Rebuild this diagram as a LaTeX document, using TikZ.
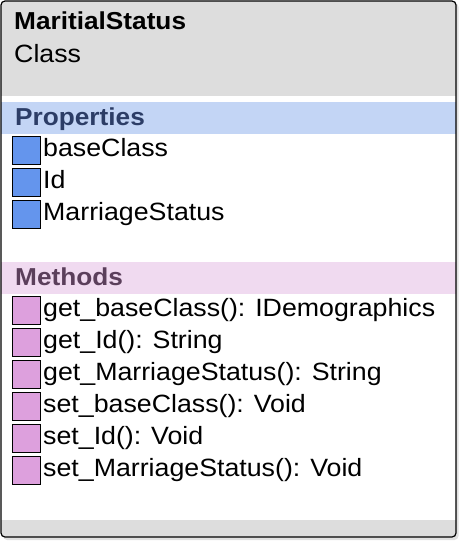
\documentclass[tikz,border=0pt]{standalone}
\usepackage{fontspec}
\setmainfont{Liberation Sans}[FakeStretch=1.07]
\usetikzlibrary{positioning}

\definecolor{headgray}{HTML}{DDDDDD}
\definecolor{propband}{HTML}{C3D5F5}
\definecolor{methband}{HTML}{F0DAF0}
\definecolor{propicon}{HTML}{6495ED}
\definecolor{methicon}{HTML}{DDA0DD}
\definecolor{proptext}{HTML}{2C3D66}
\definecolor{methtext}{HTML}{5B3F5B}

\begin{document}
\begin{tikzpicture}[
    x=1pt, y=-1pt,
    node distance=3pt,
    icon/.style={rectangle, draw, line width=1pt, minimum size=28pt, inner sep=0pt},
    prop/.style={icon, fill=propicon},
    meth/.style={icon, fill=methicon},
    member/.style={inner sep=0pt, text height=17pt, text depth=5pt, font=\fontsize{25}{29}\selectfont},
    heading/.style={anchor=base west, inner sep=0pt, font=\fontsize{24.5}{29}\selectfont\bfseries}
]
\useasboundingbox (0,0) rectangle (463,544);

% Shadow and body of the class box
\fill[black!12, rounded corners=4pt] (3,3) rectangle (458.5,540);
\fill[white, rounded corners=4pt] (1,1) rectangle (456,537);
\begin{scope}
  \clip[rounded corners=4pt] (1,1) rectangle (456,537);
  \fill[headgray] (1,1) rectangle (456,96);
  \fill[propband] (1,102) rectangle (456,134);
  \fill[methband] (1,262) rectangle (456,294);
  \fill[headgray] (1,520) rectangle (456,537);
\end{scope}
\draw[line width=1.2pt, rounded corners=4pt] (1,1) rectangle (456,537);

% Header
\node[heading] (title) at (14,29) {MaritialStatus};
\node[heading, font=\fontsize{25}{29}\selectfont] (kind) at (14,62) {Class};

% Properties
\node[heading, text=proptext] (props) at (15,125) {Properties};
\node[prop] (p1) at (26.5,150.5) {};
\node[prop, below=of p1] (p2) {};
\node[prop, below=of p2] (p3) {};
\node[member, right=2pt of p1] {baseClass};
\node[member, right=2pt of p2] {Id};
\node[member, right=2pt of p3] {MarriageStatus};

% Methods
\node[heading, text=methtext] (meths) at (15,285) {Methods};
\node[meth] (m1) at (26.5,310.5) {};
\node[meth, below=of m1] (m2) {};
\node[meth, below=of m2] (m3) {};
\node[meth, below=of m3] (m4) {};
\node[meth, below=of m4] (m5) {};
\node[meth, below=of m5] (m6) {};
\node[member, right=2pt of m1] {get\_baseClass(): IDemographics};
\node[member, right=2pt of m2] {get\_Id(): String};
\node[member, right=2pt of m3] {get\_MarriageStatus(): String};
\node[member, right=2pt of m4] {set\_baseClass(): Void};
\node[member, right=2pt of m5] {set\_Id(): Void};
\node[member, right=2pt of m6] {set\_MarriageStatus(): Void};

\end{tikzpicture}
\end{document}
